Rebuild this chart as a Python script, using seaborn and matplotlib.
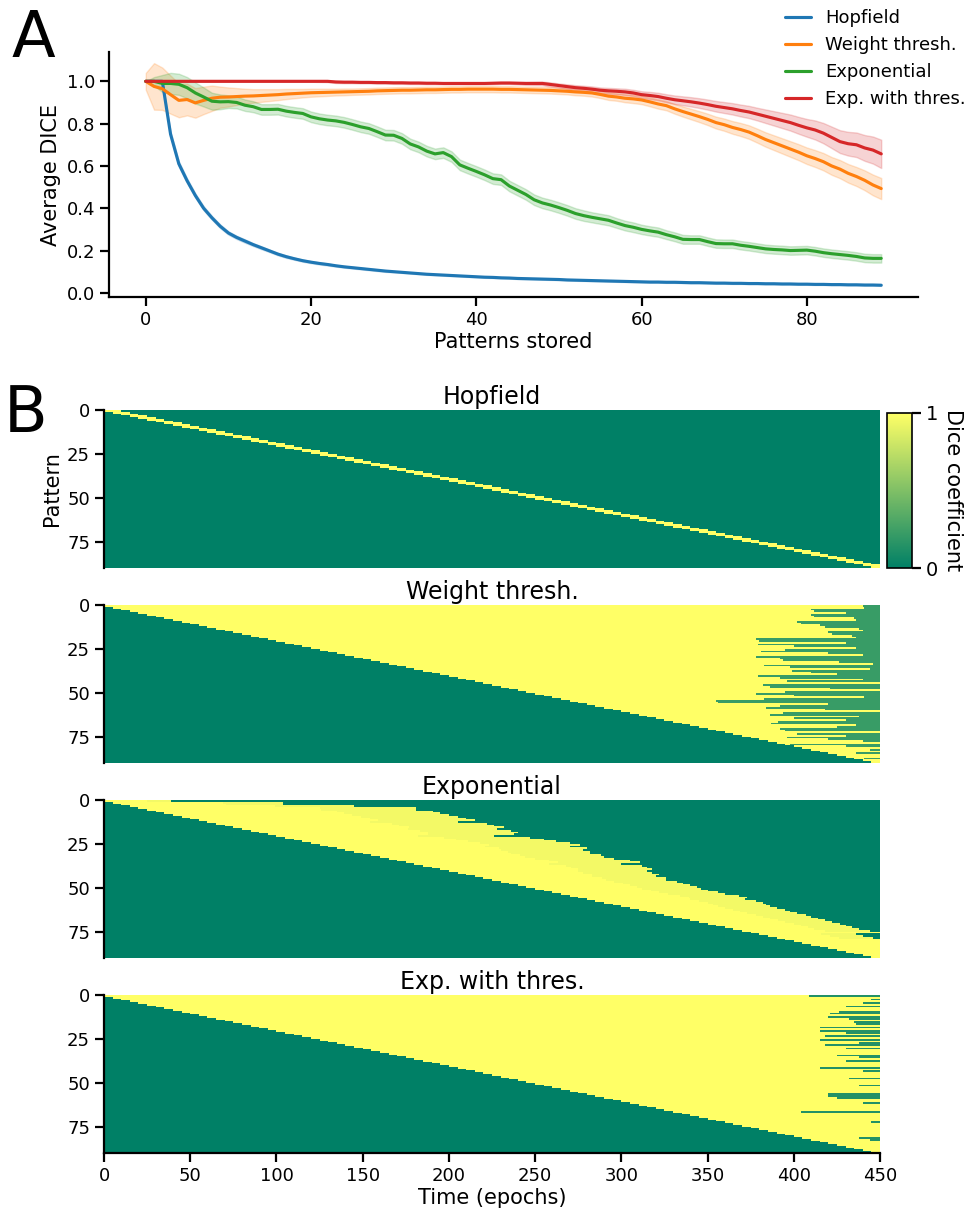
import numpy as np
import pandas as pd
import matplotlib
matplotlib.use("Agg")
import matplotlib.pyplot as plt
import seaborn as sns

# ---------------- data: panel A (average DICE vs patterns stored) ----------------
patterns_stored = list(range(90))
model_names = ["Hopfield", "Weight thresh.", "Exponential", "Exp. with thres."]

hopfield_mean = [
    1.0, 1.0, 1.0, 0.75, 0.61, 0.53, 0.46, 0.40, 0.355, 0.315,
    0.283, 0.262, 0.245, 0.228, 0.213, 0.198, 0.183, 0.171, 0.161, 0.152,
    0.145, 0.139, 0.134, 0.128, 0.123, 0.119, 0.115, 0.111, 0.107, 0.103,
    0.10, 0.097, 0.094, 0.091, 0.088, 0.086, 0.084, 0.082, 0.08, 0.078,
    0.076, 0.074, 0.073, 0.071, 0.07, 0.068, 0.067, 0.066, 0.065, 0.064,
    0.063, 0.061, 0.06, 0.059, 0.058, 0.057, 0.056, 0.055, 0.054, 0.053,
    0.052, 0.051, 0.051, 0.05, 0.05, 0.049, 0.048, 0.048, 0.047, 0.046,
    0.046, 0.045, 0.045, 0.044, 0.044, 0.043, 0.043, 0.042, 0.042, 0.041,
    0.041, 0.04, 0.04, 0.039, 0.039, 0.038, 0.038, 0.037, 0.037, 0.036]
hopfield_ci = [
    0.0, 0.0, 0.0, 0.012, 0.012, 0.011, 0.01, 0.01, 0.009, 0.009,
    0.008, 0.008, 0.008, 0.007, 0.007, 0.006, 0.006, 0.006, 0.005, 0.005,
    0.005, 0.005, 0.005, 0.004, 0.004, 0.004, 0.004, 0.004, 0.004, 0.004,
    0.003, 0.003, 0.003, 0.003, 0.003, 0.003, 0.003, 0.003, 0.003, 0.003,
    0.003, 0.003, 0.003, 0.003, 0.003, 0.003, 0.003, 0.003, 0.003, 0.003,
    0.003, 0.003, 0.003, 0.003, 0.003, 0.003, 0.003, 0.003, 0.003, 0.003,
    0.003, 0.003, 0.003, 0.003, 0.003, 0.003, 0.003, 0.003, 0.003, 0.003,
    0.003, 0.003, 0.003, 0.003, 0.003, 0.003, 0.003, 0.003, 0.003, 0.003,
    0.003, 0.003, 0.003, 0.003, 0.003, 0.003, 0.003, 0.003, 0.003, 0.003]

weight_mean = [
    1.0, 0.976, 0.965, 0.937, 0.91, 0.914, 0.898, 0.91, 0.92, 0.925,
    0.926, 0.928, 0.93, 0.931, 0.933, 0.935, 0.937, 0.94, 0.942, 0.944,
    0.946, 0.947, 0.948, 0.949, 0.95, 0.951, 0.952, 0.953, 0.955, 0.956,
    0.957, 0.958, 0.958, 0.959, 0.96, 0.96, 0.961, 0.962, 0.962, 0.963,
    0.963, 0.963, 0.963, 0.962, 0.962, 0.961, 0.96, 0.959, 0.958, 0.957,
    0.955, 0.953, 0.95, 0.948, 0.945, 0.938, 0.93, 0.926, 0.92, 0.917,
    0.912, 0.903, 0.893, 0.885, 0.87, 0.857, 0.845, 0.833, 0.82, 0.805,
    0.795, 0.782, 0.772, 0.76, 0.743, 0.725, 0.71, 0.695, 0.68, 0.665,
    0.648, 0.635, 0.62, 0.60, 0.585, 0.565, 0.55, 0.532, 0.51, 0.493]
weight_ci = [
    0.04, 0.11, 0.10, 0.09, 0.08, 0.075, 0.07, 0.065, 0.06, 0.05,
    0.045, 0.04, 0.035, 0.032, 0.03, 0.028, 0.026, 0.024, 0.022, 0.02,
    0.019, 0.018, 0.017, 0.016, 0.016, 0.015, 0.015, 0.015, 0.015, 0.015,
    0.015, 0.015, 0.015, 0.015, 0.015, 0.015, 0.015, 0.015, 0.015, 0.015,
    0.015, 0.015, 0.015, 0.015, 0.015, 0.015, 0.015, 0.015, 0.015, 0.015,
    0.015, 0.015, 0.016, 0.016, 0.017, 0.017, 0.018, 0.018, 0.019, 0.02,
    0.02, 0.021, 0.022, 0.022, 0.023, 0.024, 0.025, 0.026, 0.027, 0.028,
    0.029, 0.03, 0.031, 0.032, 0.033, 0.034, 0.035, 0.036, 0.037, 0.038,
    0.039, 0.04, 0.041, 0.042, 0.043, 0.044, 0.045, 0.047, 0.049, 0.05]

exponential_mean = [
    1.0, 1.0, 0.99, 0.99, 0.986, 0.97, 0.945, 0.926, 0.906, 0.903,
    0.904, 0.90, 0.887, 0.88, 0.867, 0.867, 0.868, 0.859, 0.853, 0.848,
    0.832, 0.823, 0.817, 0.813, 0.806, 0.796, 0.785, 0.777, 0.762, 0.746,
    0.745, 0.73, 0.704, 0.69, 0.67, 0.657, 0.663, 0.644, 0.605, 0.589,
    0.574, 0.558, 0.54, 0.535, 0.505, 0.485, 0.465, 0.44, 0.425, 0.415,
    0.403, 0.39, 0.375, 0.365, 0.357, 0.35, 0.343, 0.33, 0.318, 0.31,
    0.30, 0.293, 0.287, 0.275, 0.265, 0.253, 0.252, 0.252, 0.242, 0.233,
    0.232, 0.232, 0.225, 0.22, 0.214, 0.208, 0.205, 0.203, 0.20, 0.201,
    0.202, 0.197, 0.19, 0.185, 0.181, 0.177, 0.172, 0.165, 0.163, 0.163]
exponential_ci = [
    0.0, 0.02, 0.04, 0.05, 0.05, 0.05, 0.05, 0.045, 0.04, 0.035,
    0.03, 0.028, 0.027, 0.026, 0.025, 0.025, 0.025, 0.025, 0.025, 0.025,
    0.025, 0.025, 0.025, 0.025, 0.025, 0.025, 0.025, 0.025, 0.025, 0.025,
    0.025, 0.025, 0.025, 0.025, 0.025, 0.025, 0.025, 0.025, 0.025, 0.025,
    0.025, 0.025, 0.025, 0.025, 0.025, 0.025, 0.025, 0.025, 0.025, 0.025,
    0.025, 0.025, 0.025, 0.025, 0.024, 0.024, 0.024, 0.023, 0.023, 0.023,
    0.022, 0.022, 0.022, 0.021, 0.021, 0.021, 0.02, 0.02, 0.02, 0.02,
    0.02, 0.02, 0.02, 0.02, 0.02, 0.02, 0.02, 0.02, 0.02, 0.02,
    0.02, 0.02, 0.02, 0.02, 0.02, 0.02, 0.02, 0.02, 0.02, 0.02]

expthres_mean = [
    1.0, 1.0, 1.0, 1.0, 1.0, 1.0, 1.0, 1.0, 1.0, 1.0,
    1.0, 1.0, 1.0, 1.0, 1.0, 1.0, 1.0, 1.0, 1.0, 1.0,
    1.0, 1.0, 1.0, 0.997, 0.996, 0.996, 0.995, 0.995, 0.994, 0.994,
    0.993, 0.993, 0.992, 0.992, 0.991, 0.991, 0.99, 0.99, 0.99, 0.99,
    0.99, 0.99, 0.991, 0.992, 0.992, 0.991, 0.99, 0.99, 0.99, 0.985,
    0.98, 0.975, 0.97, 0.967, 0.963, 0.958, 0.955, 0.953, 0.95, 0.945,
    0.937, 0.933, 0.928, 0.92, 0.913, 0.908, 0.903, 0.897, 0.89, 0.882,
    0.876, 0.87, 0.862, 0.855, 0.845, 0.835, 0.825, 0.815, 0.805, 0.792,
    0.78, 0.77, 0.755, 0.735, 0.715, 0.705, 0.70, 0.685, 0.675, 0.657]
expthres_ci = [
    0.0, 0.0, 0.0, 0.0, 0.0, 0.0, 0.0, 0.0, 0.0, 0.0,
    0.0, 0.0, 0.0, 0.0, 0.0, 0.0, 0.0, 0.0, 0.0, 0.0,
    0.002, 0.003, 0.004, 0.005, 0.005, 0.005, 0.005, 0.005, 0.005, 0.005,
    0.005, 0.005, 0.005, 0.005, 0.005, 0.005, 0.005, 0.005, 0.005, 0.005,
    0.005, 0.005, 0.005, 0.005, 0.005, 0.006, 0.007, 0.008, 0.009, 0.01,
    0.01, 0.011, 0.012, 0.012, 0.013, 0.013, 0.014, 0.014, 0.015, 0.015,
    0.016, 0.017, 0.018, 0.019, 0.02, 0.021, 0.022, 0.023, 0.024, 0.025,
    0.026, 0.027, 0.028, 0.029, 0.03, 0.032, 0.034, 0.036, 0.038, 0.04,
    0.042, 0.045, 0.048, 0.051, 0.054, 0.056, 0.058, 0.061, 0.064, 0.067]

# ---------------- data: panel B (Dice per pattern over time) ----------------
n_patterns = 90
n_epochs = 450
epochs_per_pattern = 5          # each pattern is presented for 5 epochs
hopfield_recall_epochs = 10     # Hopfield only keeps the latest ~2 patterns

# epoch at which each pattern is lost (>= 450: still recalled at the end)
weight_forget_epoch = [
    440, 441, 410, 412, 430, 410, 412, 435, 436, 402,
    404, 415, 418, 438, 440, 420, 422, 434, 436, 378,
    380, 430, 379, 400, 436, 395, 381, 420, 440, 378,
    392, 394, 426, 446, 383, 398, 444, 399, 410, 425,
    379, 392, 440, 396, 460, 382, 386, 421, 460, 395,
    378, 400, 441, 383, 355, 356, 420, 392, 384, 418,
    460, 394, 386, 438, 400, 430, 391, 387, 436, 425,
    392, 395, 460, 402, 430, 396, 420, 440, 460, 398,
    430, 460, 444, 460, 436, 460, 460, 441, 460, 460]
exponential_forget_epoch = [
    39, 104, 104, 145, 181, 181, 191, 195, 200, 205,
    210, 215, 205, 222, 226, 232, 228, 236, 240, 238,
    226, 247, 255, 262, 270, 276, 270, 280, 278, 282,
    282, 288, 290, 296, 305, 311, 300, 312, 315, 318,
    315, 318, 322, 320, 326, 326, 332, 336, 340, 344,
    346, 350, 356, 360, 368, 373, 372, 378, 382, 384,
    386, 390, 395, 398, 402, 407, 410, 414, 418, 422,
    427, 430, 434, 438, 444, 460, 436, 440, 446, 460,
    460, 460, 460, 460, 460, 460, 460, 460, 460, 460]
expthres_forget_epoch = [
    409, 460, 445, 460, 440, 460, 430, 460, 460, 426,
    421, 460, 420, 432, 460, 435, 436, 460, 415, 460,
    415, 430, 460, 418, 460, 415, 460, 438, 418, 460,
    430, 460, 460, 460, 425, 438, 460, 430, 460, 460,
    460, 415, 460, 440, 460, 460, 460, 432, 460, 460,
    460, 438, 460, 460, 460, 460, 420, 420, 425, 460,
    460, 440, 460, 460, 460, 460, 404, 460, 460, 460,
    460, 460, 445, 460, 460, 460, 460, 460, 460, 460,
    460, 438, 444, 460, 460, 460, 460, 460, 460, 460]

weight_lost_dice = 0.22
expthres_lost_dice = 0.14
exponential_late_dice = 0.95     # slightly paler yellow near the end of recall
exponential_late_share = 0.35    # last ~third of each recall span

time_ticks = [0, 50, 100, 150, 200, 250, 300, 350, 400, 450]
pattern_ticks = [0, 25, 50, 75]
dice_ticks = [0, 1]

# ---------------- style ----------------
sns.set_theme(style="ticks", rc={
    "axes.linewidth": 1.6,
    "axes.edgecolor": "black",
    "xtick.major.width": 1.6, "ytick.major.width": 1.6,
    "xtick.major.size": 6.5, "ytick.major.size": 6.5,
    "xtick.labelsize": 13, "ytick.labelsize": 13,
    "axes.labelsize": 15, "axes.titlesize": 17,
    "legend.fontsize": 13, "lines.linewidth": 2.25,
    "text.color": "black", "axes.labelcolor": "black",
    "xtick.color": "black", "ytick.color": "black",
})
plt.rcParams["font.family"] = ["DejaVu Sans"]

W, H = 972, 1224
fig = plt.figure(figsize=(W / 100, H / 100), dpi=100)


def frac_box(left, top, right, bottom):
    return [left / W, 1 - bottom / H, (right - left) / W, (bottom - top) / H]


# ---------------- panel A ----------------
palette = dict(zip(model_names, sns.color_palette("tab10", 4)))
means = [hopfield_mean, weight_mean, exponential_mean, expthres_mean]
cis = [hopfield_ci, weight_ci, exponential_ci, expthres_ci]
df = pd.concat([
    pd.DataFrame({"Patterns stored": patterns_stored, "Average DICE": m, "Model": n})
    for n, m in zip(model_names, means)], ignore_index=True)

axA = fig.add_axes(frac_box(109, 52, 918, 297))
sns.lineplot(data=df, x="Patterns stored", y="Average DICE", hue="Model",
             hue_order=model_names, palette=palette, ax=axA, linewidth=2.25)
for n, m, c in zip(model_names, means, cis):
    m = np.asarray(m); c = np.asarray(c)
    axA.fill_between(patterns_stored, m - c, m + c, color=palette[n],
                     alpha=0.2, zorder=1)
axA.set_xticks([0, 20, 40, 60, 80])
axA.set_yticks([0.0, 0.2, 0.4, 0.6, 0.8, 1.0])
axA.set_yticklabels(["0.0", "0.2", "0.4", "0.6", "0.8", "1.0"])
axA.set_xlabel("Patterns stored", labelpad=2)
axA.set_ylabel("Average DICE")
sns.despine(ax=axA)
axA.legend(title=None, frameon=False, loc="upper left",
           bbox_to_anchor=(778 / W, 1 - 2 / H), bbox_transform=fig.transFigure,
           borderaxespad=0, handlelength=1.4, handletextpad=0.8)

# ---------------- panel B ----------------
onsets = [i * epochs_per_pattern for i in range(n_patterns)]


def build(forget, lost_value, late_value=None, late_share=0.0):
    M = np.zeros((n_patterns, n_epochs))
    for i in range(n_patterns):
        s = onsets[i]
        e = min(max(forget[i], s), n_epochs)
        M[i, s:e] = 1.0
        if late_value is not None and forget[i] < n_epochs:
            late = e - int(round((e - s) * late_share))
            M[i, late:e] = late_value
        M[i, e:] = lost_value
    return M


mats = [
    build([o + hopfield_recall_epochs for o in onsets], 0.0),
    build(weight_forget_epoch, weight_lost_dice),
    build(exponential_forget_epoch, 0.0, exponential_late_dice, exponential_late_share),
    build(expthres_forget_epoch, expthres_lost_dice),
]

tops = [410, 605, 800, 995]
cax = fig.add_axes(frac_box(887, 413, 912, 568))
for k, (name, M) in enumerate(zip(model_names, mats)):
    ax = fig.add_axes(frac_box(104, tops[k], 880, tops[k] + 158))
    sns.heatmap(M, ax=ax, cmap="summer", vmin=0, vmax=1,
                cbar=(k == 0), cbar_ax=cax if k == 0 else None,
                xticklabels=False, yticklabels=False, rasterized=True)
    ax.set_title(name, pad=4)
    ax.set_yticks(pattern_ticks)
    ax.set_yticklabels([str(v) for v in pattern_ticks], rotation=0)
    ax.spines["left"].set_visible(True)
    ax.tick_params(left=True, length=6.5, width=1.6)
    if k == 3:
        ax.set_xticks(time_ticks)
        ax.set_xticklabels([str(v) for v in time_ticks], rotation=0)
        ax.spines["bottom"].set_visible(True)
        ax.tick_params(bottom=True)
        ax.set_xlabel("Time (epochs)", labelpad=2)
    else:
        ax.set_xticks([])
    if k == 0:
        ax.set_ylabel("Pattern")
        cb = ax.collections[0].colorbar
        cb.set_ticks(dice_ticks)
        cb.set_ticklabels(["0", "1"])
        cb.outline.set_linewidth(1.2)
        cb.outline.set_edgecolor("black")
        cb.ax.tick_params(labelsize=14, length=6.5, width=1.6, colors="black")
        cb.set_label("Dice coefficient", rotation=270, labelpad=18, fontsize=15)

fig.text(11 / W, 1 - 57 / H, "A", fontsize=46, va="baseline", ha="left", color="black")
fig.text(4 / W, 1 - 432 / H, "B", fontsize=46, va="baseline", ha="left", color="black")

fig.savefig("out.png", dpi=100)
